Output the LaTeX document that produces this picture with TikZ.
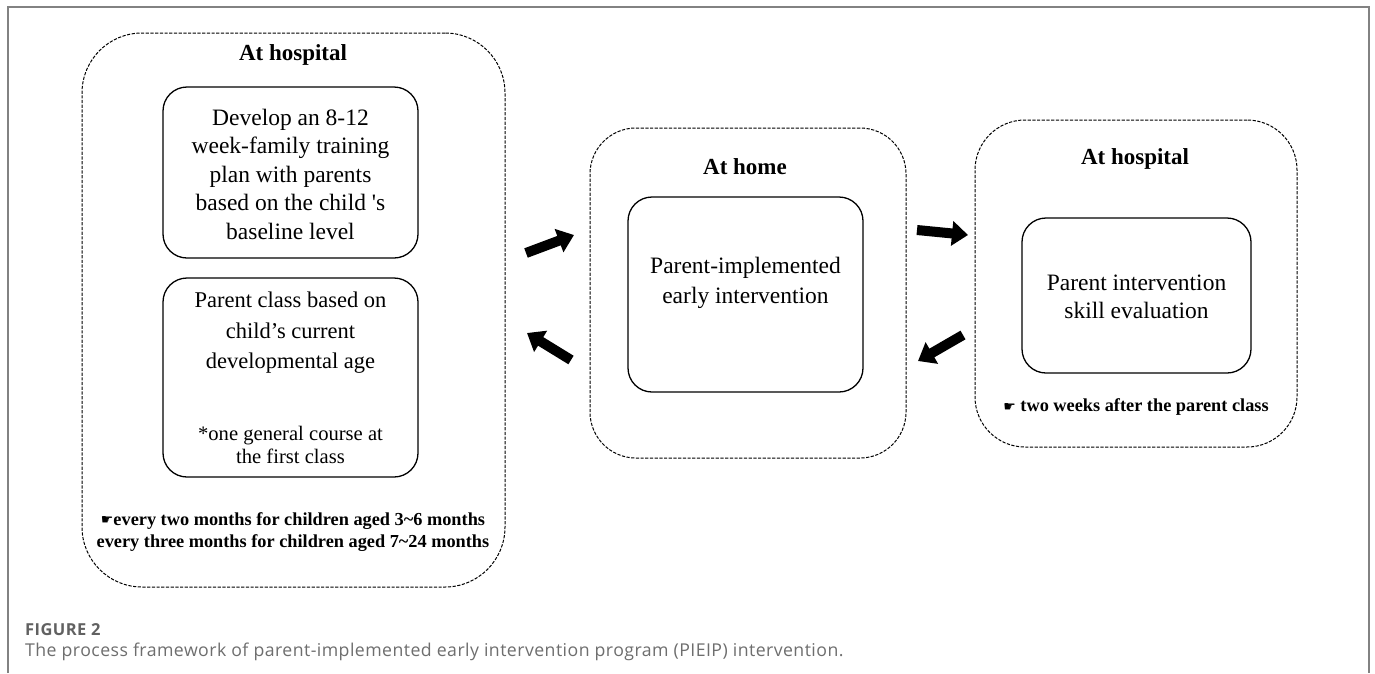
\documentclass[tikz,border=0pt]{standalone}
\usepackage{fontspec}
\setmainfont{Liberation Serif}
\newfontfamily\handfont{DejaVu Sans}
\newfontfamily\capfont[LetterSpace=2.5]{Open Sans}
\usetikzlibrary{arrows.meta}
\definecolor{framegray}{RGB}{130,130,130}
\definecolor{capgray}{RGB}{110,110,110}
\newcommand{\hand}{{\handfont\fontsize{14}{14}\selectfont\raisebox{0.5pt}{☛}}}
\begin{document}
\begin{tikzpicture}[x=1pt,y=-1pt,
  outerbox/.style={draw=black, line width=1pt, dash pattern=on 3.2pt off 1.5pt, rounded corners=#1, inner sep=0pt},
  innerbox/.style={draw=black, line width=1.3pt, rounded corners=24pt, inner sep=0pt},
  body/.style={font=\fontsize{23.5}{28.5}\selectfont, align=center, inner sep=0pt},
  title/.style={font=\fontsize{23}{27}\selectfont\bfseries, inner sep=0pt},
  note/.style={font=\fontsize{18.3}{22}\selectfont\bfseries, align=center, inner sep=0pt},
  blockarrow/.style={line width=10pt, -{Triangle[width=24pt,length=16pt]}},
  captxt/.style={anchor=west, inner sep=0pt, text=capgray}]
\useasboundingbox (0,0) rectangle (1375,673);
\fill[white] (0,0) rectangle (1375,673);
% frame
\draw[framegray, line width=1.4pt] (8,673) -- (8,7) -- (1369,7) -- (1369,673);

% left: at hospital
\node[outerbox=60pt, minimum width=423pt, minimum height=554pt] (hospA) at (293.5,310) {};
\node[title] (hospAtitle) at (293,55) {At hospital};
\node[innerbox, minimum width=255pt, minimum height=171pt] (plan) at (290.5,172.5) {};
\node[body] (plantxt) at (290.5,174) {Develop an 8-12\\week-family training\\plan with parents\\based on the child \textquotesingle s\\baseline level};
\node[innerbox, minimum width=255pt, minimum height=199pt] (class) at (290.5,377.5) {};
\node[body, font=\fontsize{22.5}{30.5}\selectfont] (classtxt) at (290.5,333) {Parent class based on\\child’s current\\developmental age};
\node[body, font=\fontsize{20.6}{23.5}\selectfont] (classnote) at (290.5,445) {*one general course at\\the first class};
\node[note] (hospAnote) at (293,532) {\hand every two months for children aged 3\textasciitilde6 months\\every three months for children aged 7\textasciitilde24 months};

% middle: at home
\node[outerbox=46pt, minimum width=316pt, minimum height=330pt] (home) at (748,293) {};
\node[title] (hometitle) at (745,167) {At home};
\node[innerbox, minimum width=235pt, minimum height=195pt] (impl) at (745.5,294.5) {};
\node[body, font=\fontsize{23.5}{30}\selectfont] (impltxt) at (745.5,283) {Parent-implemented\\early intervention};

% right: at hospital
\node[outerbox=50pt, minimum width=322pt, minimum height=327pt] (hospB) at (1136,283.5) {};
\node[title] (hospBtitle) at (1135,159) {At hospital};
\node[innerbox, minimum width=229pt, minimum height=155pt] (eval) at (1136.5,295.5) {};
\node[body, font=\fontsize{23.5}{28}\selectfont] (evaltxt) at (1136.5,297) {Parent intervention\\skill evaluation};
\node[note] (hospBnote) at (1136,407) {\hand\ two weeks after the parent class};

% arrows
\coordinate (a1s) at (526,253);
\coordinate (a1e) at (574,235);
\coordinate (a2s) at (571,360);
\coordinate (a2e) at (527,333);
\coordinate (a3s) at (917,230);
\coordinate (a3e) at (968,235);
\coordinate (a4s) at (963,335);
\coordinate (a4e) at (918,361);
\draw[blockarrow] (a1s) -- (a1e);
\draw[blockarrow] (a2s) -- (a2e);
\draw[blockarrow] (a3s) -- (a3e);
\draw[blockarrow] (a4s) -- (a4e);

% caption
\node[captxt, text=black!62, font=\capfont\bfseries\fontsize{16.5}{18}\selectfont] (figlabel) at (25,630) {FIGURE 2};
\node[captxt, font=\capfont\fontsize{17.7}{20}\selectfont] (figcap) at (25,652) {The process framework of parent-implemented early intervention program (PIEIP) intervention.};
\end{tikzpicture}
\end{document}
